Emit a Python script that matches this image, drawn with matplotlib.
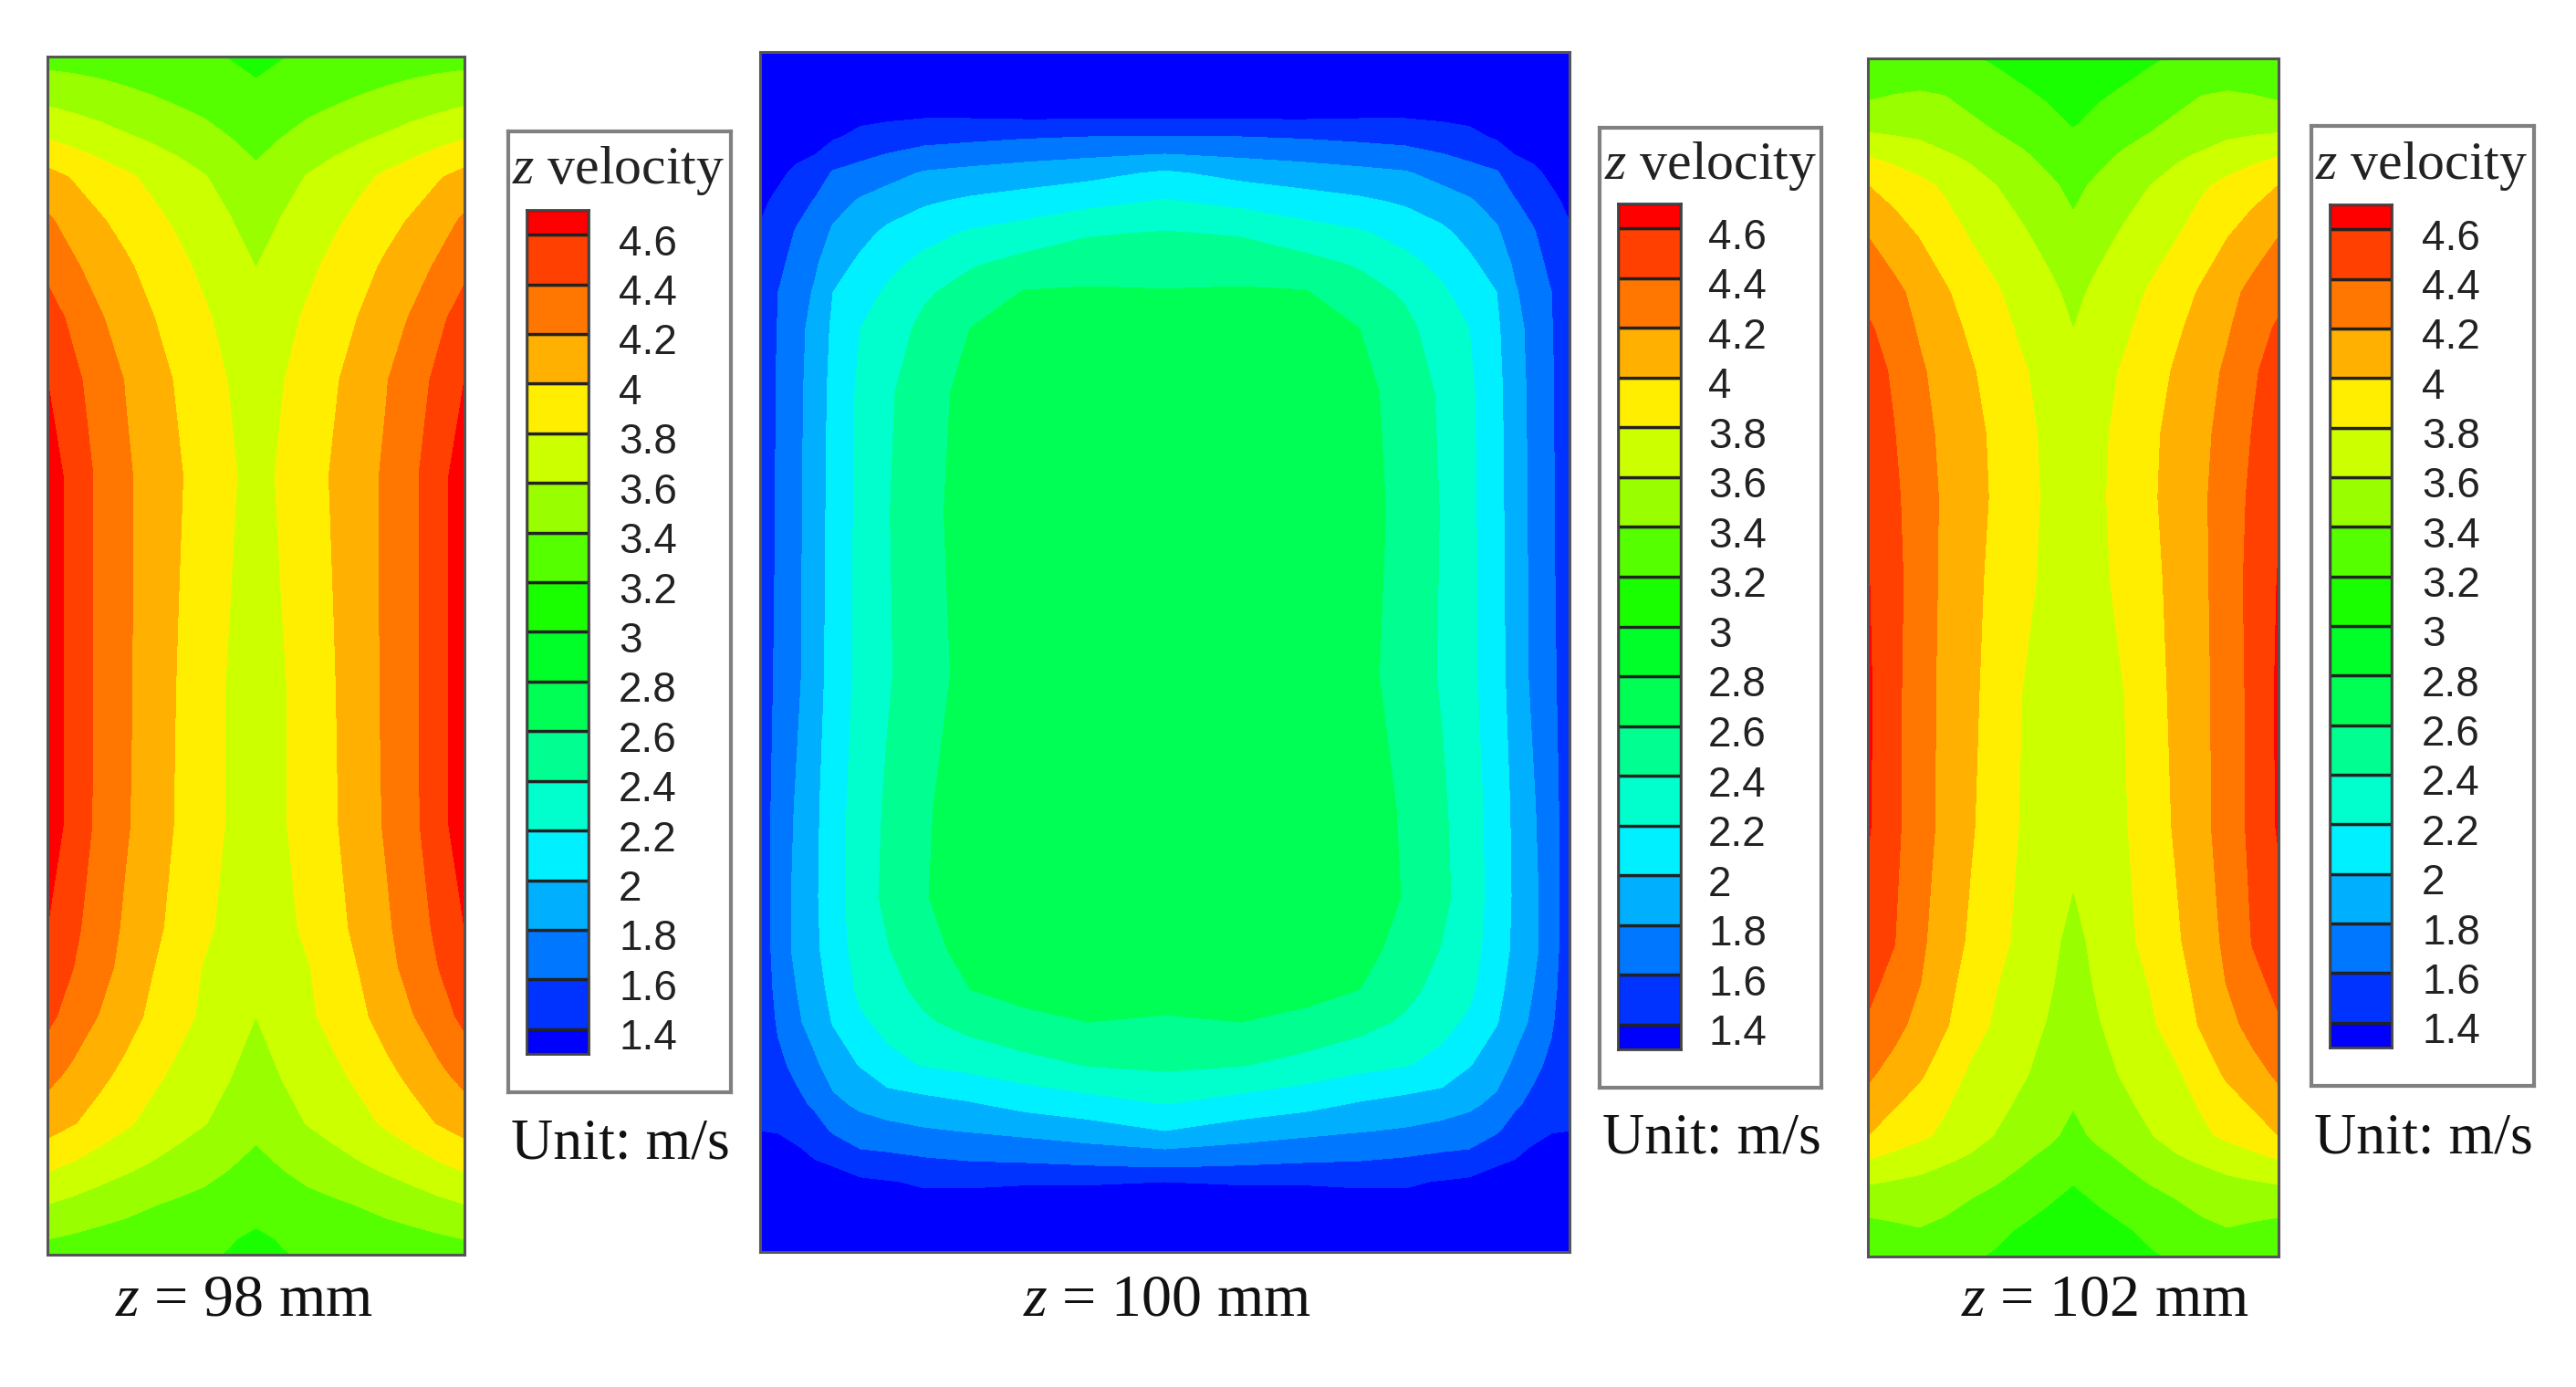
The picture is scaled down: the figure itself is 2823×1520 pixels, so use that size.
import numpy as np
import matplotlib
matplotlib.use('Agg')
import matplotlib.pyplot as plt
from matplotlib.colors import ListedColormap, BoundaryNorm

plt.rcParams['font.family'] = ['Liberation Serif', 'DejaVu Serif']
plt.rcParams['mathtext.fontset'] = 'custom'
plt.rcParams['mathtext.rm'] = 'Liberation Serif'
plt.rcParams['mathtext.it'] = 'Liberation Serif:italic'

# velocity levels and band colours (bottom to top of the legend)
levels = [1.4, 1.6, 1.8, 2.0, 2.2, 2.4, 2.6, 2.8, 3.0, 3.2, 3.4, 3.6, 3.8, 4.0, 4.2, 4.4, 4.6]
level_labels = ['1.4', '1.6', '1.8', '2', '2.2', '2.4', '2.6', '2.8', '3', '3.2', '3.4', '3.6', '3.8', '4', '4.2', '4.4', '4.6']
band_colors = ['#0000ff', '#0033ff', '#0077ff', '#00b0ff', '#00f0ff', '#00ffcc', '#00ff90', '#00ff55', '#00ff28',
               '#1aff00', '#55ff00', '#99ff00', '#ccff00', '#ffee00', '#ffb000', '#ff7700', '#ff4000', '#ff0000']

# z = 98 mm, left half of the section
x_98 = [0, 0.0625, 0.125, 0.1875, 0.25, 0.3125, 0.375, 0.4375, 0.5]
y_98 = [0, 0.0185, 0.0413, 0.069, 0.100, 0.137, 0.176, 0.2185, 0.270, 0.350, 0.5315,
        0.642, 0.727, 0.760, 0.801, 0.849, 0.890, 0.931, 0.958, 0.987, 1]
v_98 = [
    [3.32, 3.30, 3.28, 3.27, 3.25, 3.24, 3.22, 3.19, 3.10],
    [3.45, 3.43, 3.40, 3.37, 3.34, 3.31, 3.28, 3.25, 3.20],
    [3.60, 3.56, 3.52, 3.48, 3.44, 3.40, 3.36, 3.32, 3.27],
    [3.80, 3.745, 3.69, 3.63, 3.58, 3.53, 3.47, 3.405, 3.35],
    [4.06, 3.98, 3.90, 3.83, 3.755, 3.68, 3.61, 3.53, 3.435],
    [4.23, 4.12, 4.02, 3.94, 3.85, 3.77, 3.69, 3.61, 3.515],
    [4.36, 4.23, 4.12, 4.03, 3.94, 3.85, 3.76, 3.68, 3.60],
    [4.48, 4.36, 4.22, 4.11, 4.01, 3.92, 3.83, 3.735, 3.64],
    [4.60, 4.44, 4.32, 4.19, 4.08, 3.98, 3.885, 3.79, 3.68],
    [4.72, 4.52, 4.36, 4.23, 4.12, 4.02, 3.92, 3.83, 3.72],
    [4.72, 4.52, 4.36, 4.23, 4.11, 3.99, 3.88, 3.78, 3.68],
    [4.72, 4.52, 4.35, 4.22, 4.10, 3.98, 3.88, 3.78, 3.66],
    [4.60, 4.44, 4.30, 4.17, 4.05, 3.94, 3.84, 3.74, 3.63],
    [4.52, 4.40, 4.27, 4.14, 4.01, 3.90, 3.79, 3.70, 3.62],
    [4.45, 4.31, 4.19, 4.08, 3.96, 3.86, 3.77, 3.68, 3.60],
    [4.26, 4.16, 4.05, 3.95, 3.85, 3.76, 3.68, 3.61, 3.51],
    [4.09, 4.01, 3.92, 3.83, 3.74, 3.67, 3.61, 3.53, 3.44],
    [3.80, 3.74, 3.67, 3.61, 3.56, 3.51, 3.45, 3.39, 3.35],
    [3.60, 3.55, 3.50, 3.46, 3.41, 3.37, 3.34, 3.30, 3.26],
    [3.40, 3.37, 3.34, 3.31, 3.28, 3.26, 3.24, 3.21, 3.17],
    [3.36, 3.33, 3.31, 3.29, 3.27, 3.25, 3.22, 3.19, 3.13],
]

# z = 100 mm, columns are packed towards the wall
x_100 = [0, 0.0225, 0.0451, 0.0676, 0.0902, 0.124, 0.1578, 0.2029, 0.2593, 0.3269, 0.4059, 0.5]
y_100 = [0, 0.0555, 0.0707, 0.0859, 0.1011, 0.124, 0.1506, 0.1772, 0.2, 0.2304, 0.2837, 0.3825,
         0.5194, 0.6297, 0.7034, 0.7475, 0.781, 0.8084, 0.8441, 0.8768, 0.8989, 0.9141, 0.9285, 0.9414, 1]
v_100 = [
    [1.20, 1.20, 1.20, 1.20, 1.20, 1.20, 1.20, 1.20, 1.20, 1.20, 1.20, 1.20],
    [1.28, 1.29, 1.32, 1.33, 1.34, 1.37, 1.38, 1.40, 1.40, 1.39, 1.39, 1.39],
    [1.30, 1.32, 1.35, 1.37, 1.38, 1.44, 1.49, 1.53, 1.55, 1.58, 1.60, 1.61],
    [1.33, 1.35, 1.38, 1.40, 1.49, 1.56, 1.61, 1.67, 1.71, 1.74, 1.77, 1.81],
    [1.35, 1.38, 1.42, 1.49, 1.62, 1.67, 1.73, 1.82, 1.85, 1.89, 1.94, 2.03],
    [1.38, 1.42, 1.52, 1.61, 1.72, 1.82, 1.89, 1.97, 2.03, 2.08, 2.14, 2.21],
    [1.41, 1.48, 1.62, 1.69, 1.83, 1.94, 2.04, 2.13, 2.22, 2.28, 2.38, 2.41],
    [1.43, 1.55, 1.68, 1.77, 1.92, 2.04, 2.15, 2.26, 2.38, 2.47, 2.52, 2.52],
    [1.44, 1.60, 1.71, 1.82, 2.00, 2.11, 2.23, 2.37, 2.48, 2.61, 2.62, 2.61],
    [1.46, 1.61, 1.73, 1.87, 2.03, 2.20, 2.30, 2.45, 2.60, 2.67, 2.68, 2.67],
    [1.48, 1.62, 1.74, 1.90, 2.05, 2.24, 2.37, 2.52, 2.66, 2.71, 2.72, 2.72],
    [1.49, 1.62, 1.75, 1.91, 2.06, 2.25, 2.39, 2.54, 2.68, 2.72, 2.74, 2.74],
    [1.49, 1.64, 1.76, 1.91, 2.08, 2.25, 2.38, 2.52, 2.66, 2.70, 2.72, 2.74],
    [1.49, 1.675, 1.82, 1.96, 2.11, 2.29, 2.43, 2.58, 2.68, 2.72, 2.74, 2.74],
    [1.48, 1.69, 1.845, 1.97, 2.12, 2.30, 2.45, 2.59, 2.69, 2.72, 2.74, 2.74],
    [1.47, 1.69, 1.845, 1.96, 2.10, 2.28, 2.39, 2.55, 2.65, 2.70, 2.73, 2.73],
    [1.45, 1.665, 1.80, 1.93, 2.05, 2.24, 2.33, 2.46, 2.60, 2.65, 2.68, 2.67],
    [1.44, 1.625, 1.76, 1.89, 2.01, 2.17, 2.25, 2.37, 2.47, 2.56, 2.60, 2.58],
    [1.43, 1.556, 1.65, 1.76, 1.90, 2.01, 2.15, 2.21, 2.26, 2.33, 2.41, 2.44],
    [1.41, 1.465, 1.55, 1.63, 1.75, 1.84, 1.89, 1.93, 1.98, 2.06, 2.12, 2.20],
    [1.40, 1.405, 1.45, 1.52, 1.62, 1.70, 1.74, 1.78, 1.81, 1.85, 1.91, 2.00],
    [1.38, 1.37, 1.385, 1.43, 1.50, 1.60, 1.62, 1.66, 1.69, 1.71, 1.75, 1.80],
    [1.37, 1.34, 1.36, 1.38, 1.40, 1.47, 1.50, 1.53, 1.56, 1.57, 1.59, 1.61],
    [1.35, 1.32, 1.34, 1.36, 1.37, 1.37, 1.39, 1.42, 1.42, 1.41, 1.41, 1.40],
    [1.20, 1.20, 1.20, 1.20, 1.20, 1.20, 1.20, 1.20, 1.20, 1.20, 1.20, 1.20],
]

# z = 102 mm
x_102 = [0, 0.0625, 0.125, 0.1875, 0.25, 0.3125, 0.375, 0.4375, 0.5]
y_102 = [0, 0.025, 0.062, 0.082, 0.106, 0.149, 0.195, 0.226, 0.261, 0.314, 0.366, 0.436,
         0.530, 0.641, 0.737, 0.770, 0.807, 0.848, 0.877, 0.899, 0.919, 0.940, 0.978, 1]
v_102 = [
    [3.26, 3.30, 3.32, 3.28, 3.22, 3.17, 3.12, 3.07, 3.02],
    [3.32, 3.37, 3.39, 3.38, 3.33, 3.27, 3.21, 3.16, 3.10],
    [3.60, 3.58, 3.56, 3.50, 3.45, 3.40, 3.34, 3.28, 3.21],
    [3.80, 3.75, 3.69, 3.63, 3.57, 3.50, 3.43, 3.35, 3.28],
    [4.00, 3.92, 3.85, 3.77, 3.68, 3.60, 3.52, 3.44, 3.35],
    [4.20, 4.10, 3.995, 3.90, 3.79, 3.71, 3.63, 3.54, 3.45],
    [4.34, 4.25, 4.14, 4.02, 3.92, 3.82, 3.72, 3.65, 3.55],
    [4.43, 4.31, 4.18, 4.07, 3.97, 3.87, 3.77, 3.69, 3.60],
    [4.50, 4.37, 4.23, 4.12, 4.02, 3.92, 3.82, 3.74, 3.66],
    [4.55, 4.41, 4.26, 4.16, 4.06, 3.96, 3.86, 3.76, 3.67],
    [4.58, 4.44, 4.29, 4.17, 4.07, 3.97, 3.87, 3.77, 3.68],
    [4.61, 4.46, 4.30, 4.16, 4.05, 3.95, 3.85, 3.76, 3.68],
    [4.63, 4.45, 4.29, 4.15, 4.04, 3.92, 3.80, 3.74, 3.70],
    [4.62, 4.45, 4.28, 4.15, 4.02, 3.90, 3.785, 3.72, 3.66],
    [4.52, 4.41, 4.24, 4.10, 3.97, 3.86, 3.75, 3.65, 3.55],
    [4.45, 4.35, 4.21, 4.06, 3.93, 3.81, 3.72, 3.63, 3.52],
    [4.38, 4.26, 4.14, 4.02, 3.88, 3.77, 3.68, 3.59, 3.48],
    [4.23, 4.13, 4.03, 3.89, 3.77, 3.69, 3.62, 3.54, 3.44],
    [4.12, 4.00, 3.90, 3.81, 3.72, 3.64, 3.56, 3.48, 3.40],
    [4.00, 3.91, 3.84, 3.76, 3.68, 3.59, 3.51, 3.44, 3.35],
    [3.80, 3.74, 3.68, 3.63, 3.57, 3.49, 3.42, 3.35, 3.265],
    [3.60, 3.57, 3.55, 3.49, 3.45, 3.40, 3.34, 3.27, 3.20],
    [3.32, 3.36, 3.39, 3.36, 3.29, 3.24, 3.18, 3.12, 3.06],
    [3.24, 3.29, 3.30, 3.26, 3.22, 3.18, 3.12, 3.05, 3.01],
]

captions = ['98', '100', '102']

W, H = 2823, 1520
fig = plt.figure(figsize=(W / 100, H / 100), dpi=100)


def px_axes(x0, y0, x1, y1):
    # rectangle given in picture pixels, y counted from the top
    return fig.add_axes([x0 / W, 1 - y1 / H, (x1 - x0) / W, (y1 - y0) / H])


def draw_field(rect, xs, ys, half, caption_x, caption):
    ax = px_axes(*rect)
    half = np.array(half)
    xs = np.array(xs)
    full_x = np.concatenate([xs, 1 - xs[-2::-1]])
    full_v = np.hstack([half, half[:, -2::-1]])
    edges = [0] + levels + [9]
    cmap = ListedColormap(band_colors)
    ax.contourf(full_x, ys, full_v, levels=edges, cmap=cmap, norm=BoundaryNorm(edges, cmap.N))
    ax.set_xlim(0, 1)
    ax.set_ylim(1, 0)
    ax.set_xticks([])
    ax.set_yticks([])
    for s in ax.spines.values():
        s.set_color('#555555')
        s.set_linewidth(2.2)
    fig.text(caption_x / W, 1 - 1426 / H, r'$\mathit{z}$ = ' + caption + ' mm', fontsize=47.5,
             ha='center', va='center', color='#111111')


def draw_legend(box, bar, title_xy, unit_xy, label_x):
    # white frame with the title
    ax = px_axes(*box)
    ax.set_xticks([])
    ax.set_yticks([])
    for s in ax.spines.values():
        s.set_color('#808080')
        s.set_linewidth(3)
    fig.text(title_xy[0] / W, 1 - title_xy[1] / H, r'$\mathit{z}$ velocity', fontsize=43,
             ha='center', va='center', color='#222222')
    fig.text(unit_xy[0] / W, 1 - unit_xy[1] / H, 'Unit: m/s', fontsize=46,
             ha='center', va='center', color='#111111')

    # colour bar, the two end cells are about half height
    cb = px_axes(*bar)
    step = levels[1] - levels[0]
    edges = [levels[0] - step / 2] + levels + [levels[-1] + step / 2]
    for i, c in enumerate(band_colors):
        cb.bar(0.5, edges[i + 1] - edges[i], 1, bottom=edges[i], color=c, edgecolor='#222222', linewidth=2.4)
    cb.set_xlim(0, 1)
    cb.set_ylim(edges[0], edges[-1])
    cb.set_xticks([])
    cb.set_yticks([])
    for s in cb.spines.values():
        s.set_color('#444444')
        s.set_linewidth(2)
    offset = (label_x - bar[2]) * 0.72
    for lev, lab in zip(levels, level_labels):
        cb.annotate(lab, xy=(1, lev), xycoords=('axes fraction', 'data'), xytext=(offset, -7.5),
                    textcoords='offset points', ha='left', va='center', fontsize=33,
                    family='Liberation Sans', color='#222222')


draw_field((52, 62, 509, 1375), x_98, y_98, v_98, 267, captions[0])
draw_legend((557, 144, 801, 1197), (577, 230, 645, 1155), (678, 187), (680, 1255), 678)

draw_field((833, 57, 1720, 1372), x_100, y_100, v_100, 1279, captions[1])
draw_legend((1753, 140, 1996, 1192), (1773, 223, 1842, 1150), (1875, 182), (1876, 1249), 1872)

draw_field((2047, 64, 2497, 1377), x_102, y_102, v_102, 2307, captions[2])
draw_legend((2533, 138, 2777, 1190), (2553, 224, 2621, 1148), (2654, 182), (2656, 1249), 2654)

fig.savefig('out.png', dpi=100)
